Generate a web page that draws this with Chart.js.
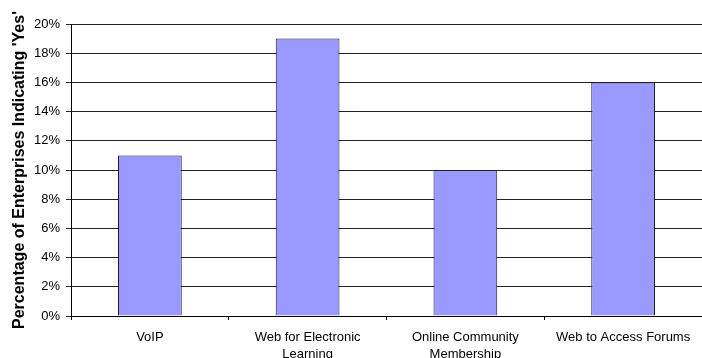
<!DOCTYPE html>
<html>
<head>
<meta charset="utf-8">
<script src="https://cdn.jsdelivr.net/npm/chart.js@4"></script>
<style>
  html, body { margin: 0; padding: 0; background: #fff; }
  #wrap { width: 702px; height: 358px; }
</style>
</head>
<body>
<div id="wrap"><canvas id="chart"></canvas></div>
<script>
// chart data
const categories = [
    'VoIP',
    ['Web for Electronic', 'Learning'],
    ['Online Community', 'Membership'],
    'Web to Access Forums'
];
const yesPercent = [11, 19, 10, 16];
const yTicks = [0, 2, 4, 6, 8, 10, 12, 14, 16, 18, 20];

const ctx = document.getElementById('chart').getContext('2d');

new Chart(ctx, {
    type: 'bar',
    data: {
        labels: categories,
        datasets: [
            {
                label: 'Yes',
                data: yesPercent,
                backgroundColor: '#9999ff',
                borderColor: '#1a1a33',
                borderWidth: 1,
                categoryPercentage: 1,
                barPercentage: 0.404
            }
        ]
    },
    options: {
        responsive: true,
        maintainAspectRatio: false,
        animation: false,
        layout: {
            padding: { top: 24, right: -2, bottom: 0, left: 0 }
        },
        plugins: {
            legend: { display: false },
            tooltip: { enabled: false }
        },
        scales: {
            x: {
                offset: true,
                grid: {
                    offset: true,
                    drawOnChartArea: false,
                    drawTicks: true,
                    tickLength: 4,
                    color: '#000'
                },
                border: { color: '#000' },
                ticks: {
                    color: '#000',
                    padding: 9,
                    maxRotation: 0,
                    autoSkip: false,
                    font: { family: 'Liberation Sans, Arial', size: 13, lineHeight: 1.3 }
                },
                afterFit: (scale) => { scale.height = 42; }
            },
            y: {
                min: 0,
                max: 20,
                afterBuildTicks: (scale) => {
                    scale.ticks = yTicks.map(v => ({ value: v }));
                },
                grid: {
                    color: '#222',
                    tickLength: 5
                },
                border: { color: '#000' },
                ticks: {
                    color: '#000',
                    padding: 6,
                    callback: (v) => v + '%',
                    font: { family: 'Liberation Sans, Arial', size: 13 }
                },
                title: {
                    display: true,
                    text: "Percentage of Enterprises Indicating 'Yes'",
                    color: '#000',
                    padding: { top: 10, bottom: 4 },
                    font: { family: 'Liberation Sans, Arial', size: 16, weight: 'bold' }
                },
                afterFit: (scale) => { scale.width = 71; }
            }
        }
    }
});
</script>
</body>
</html>
